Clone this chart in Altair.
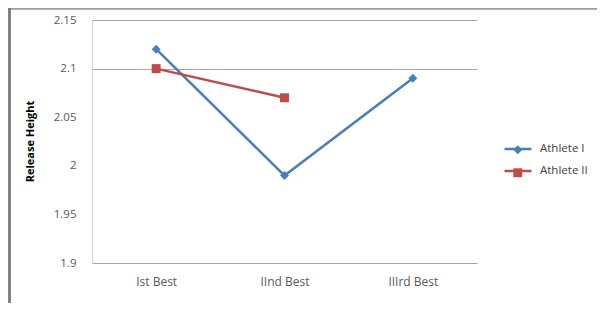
import altair as alt
import pandas as pd

categories = ["Ist Best", "IInd Best", "IIIrd Best"]
athlete_1 = [2.12, 1.99, 2.09]
athlete_2 = [2.10, 2.07]
series_names = ["Athlete I", "Athlete II"]
colors = ["#4A7EBB", "#BE4B48"]
y_ticks = [1.9, 1.95, 2.0, 2.05, 2.1, 2.15]

rows = []
for c, v in zip(categories, athlete_1):
    rows.append({"cat": c, "athlete": series_names[0], "athlete_s": series_names[0], "value": v})
for c, v in zip(categories, athlete_2):
    rows.append({"cat": c, "athlete": series_names[1], "athlete_s": series_names[1], "value": v})
df = pd.DataFrame(rows)

FONT = "Open Sans"
LABEL_COLOR = "#595959"
GRID = "#A6A6A6"

x_enc = alt.X("cat:N", sort=categories, title=None,
              axis=alt.Axis(labelAngle=0, ticks=False, domainColor=GRID,
                            labelPadding=13, labelFontSize=12, labelFont=FONT,
                            labelColor=LABEL_COLOR, grid=False))
y_enc = alt.Y("value:Q", title="Release Height",
              scale=alt.Scale(domain=[1.9, 2.15], nice=False, zero=False),
              axis=alt.Axis(values=y_ticks, format=".2~f", ticks=False,
                            domainColor="#D0D0D0", labelPadding=16,
                            labelFontSize=11.5, labelFont=FONT, labelColor=LABEL_COLOR,
                            grid=True, gridColor=GRID,
                            gridOpacity=alt.condition("datum.value > 2.07", alt.value(1), alt.value(0)),
                            titleFont=FONT, titleFontSize=11, titleFontWeight="bold",
                            titleColor="#000000", titleX=-62, titleY=121,
                            titleAngle=-90, titleAlign="center", titleBaseline="middle"))

color_scale = alt.Scale(domain=series_names, range=colors)

line_legend = alt.Legend(
    title=None, orient="none", legendX=411, legendY=114,
    symbolType="stroke", symbolSize=729, symbolStrokeWidth=2.5,
    labelOffset=7, rowPadding=1, padding=0,
    labelFont=FONT, labelFontSize=11.5, labelColor="#404040",
)
point_legend = alt.Legend(
    title=None, orient="none", legendX=420, legendY=124,
    symbolSize=80, symbolStrokeWidth=0, symbolOpacity=1,
    labelOffset=0, rowPadding=10, padding=0, labelExpr="''",
    labelFont=FONT, labelFontSize=11.5,
)

lines = alt.Chart(df).mark_line(strokeWidth=2.5).encode(
    x=x_enc, y=y_enc,
    color=alt.Color("athlete:N", scale=color_scale, legend=line_legend),
)

points = alt.Chart(df).mark_point(filled=True, opacity=1, size=80).encode(
    x=alt.X("cat:N", sort=categories),
    y="value:Q",
    fill=alt.Fill("athlete_s:N", scale=color_scale, legend=point_legend),
    shape=alt.Shape("athlete_s:N", scale=alt.Scale(domain=series_names, range=["diamond", "square"]),
                    legend=point_legend),
)

frame_top = alt.Chart(df).mark_rule(color="#A0A0A0", strokeWidth=1.5).encode(
    x=alt.value(-84), x2=alt.value(505), y=alt.value(-11.5))
frame_left = alt.Chart(df).mark_rule(color="#808080", strokeWidth=2).encode(
    x=alt.value(-82.5), y=alt.value(-12), y2=alt.value(283))

chart = alt.layer(frame_top, frame_left, lines, points).resolve_scale(
    color="independent", fill="independent", shape="independent"
).properties(
    width=385, height=243,
    padding={"left": 84, "top": 12, "right": 120, "bottom": 40},
    autosize=alt.AutoSizeParams(type="none"),
    background="white",
).configure_view(stroke=None)

chart.save("out.html", embed_options={"renderer": "svg", "actions": False})
